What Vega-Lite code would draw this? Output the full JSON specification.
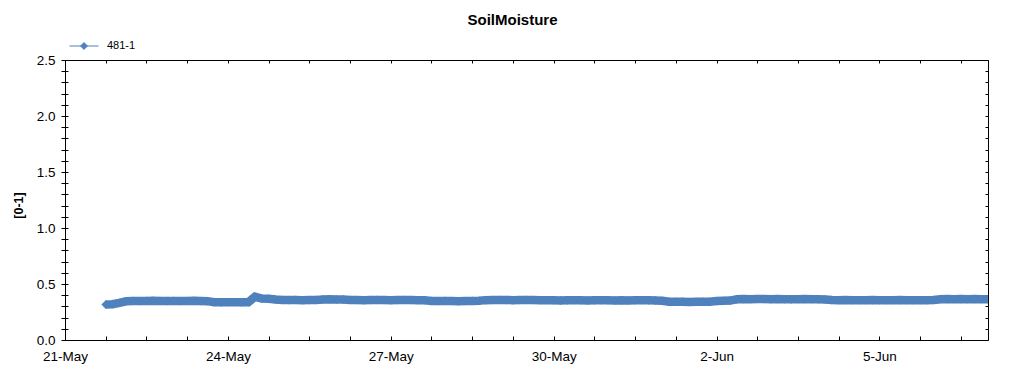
{
  "$schema": "https://vega.github.io/schema/vega-lite/v6.json",
  "autosize": {"type": "none"},
  "padding": {"left": 65, "top": 60, "right": 36, "bottom": 35},
  "width": 923,
  "height": 280,
  "background": "white",
  "config": {"view": {"stroke": null}},
  "title": {"text": "SoilMoisture", "font": "Liberation Sans", "fontSize": 15, "fontWeight": "bold", "color": "#000", "anchor": "middle", "dx": -14, "offset": 3},
  "data": {"values": [
    {"t":"2013-05-21T18:00","v":0.316},{"t":"2013-05-21T21:00","v":0.320},
    {"t":"2013-05-22T00:00","v":0.332},{"t":"2013-05-22T03:00","v":0.346},{"t":"2013-05-22T06:00","v":0.349},{"t":"2013-05-22T09:00","v":0.348},{"t":"2013-05-22T12:00","v":0.349},{"t":"2013-05-22T15:00","v":0.350},{"t":"2013-05-22T18:00","v":0.349},{"t":"2013-05-22T21:00","v":0.348},
    {"t":"2013-05-23T00:00","v":0.349},{"t":"2013-05-23T03:00","v":0.348},{"t":"2013-05-23T06:00","v":0.349},{"t":"2013-05-23T09:00","v":0.350},{"t":"2013-05-23T12:00","v":0.348},{"t":"2013-05-23T15:00","v":0.347},{"t":"2013-05-23T18:00","v":0.338},{"t":"2013-05-23T21:00","v":0.336},
    {"t":"2013-05-24T00:00","v":0.337},{"t":"2013-05-24T03:00","v":0.338},{"t":"2013-05-24T06:00","v":0.336},{"t":"2013-05-24T09:00","v":0.337},{"t":"2013-05-24T12:00","v":0.386},{"t":"2013-05-24T15:00","v":0.370},{"t":"2013-05-24T18:00","v":0.368},{"t":"2013-05-24T21:00","v":0.362},
    {"t":"2013-05-25T00:00","v":0.358},{"t":"2013-05-25T03:00","v":0.357},{"t":"2013-05-25T06:00","v":0.358},{"t":"2013-05-25T09:00","v":0.356},{"t":"2013-05-25T12:00","v":0.357},{"t":"2013-05-25T15:00","v":0.358},{"t":"2013-05-25T18:00","v":0.362},{"t":"2013-05-25T21:00","v":0.363},
    {"t":"2013-05-26T00:00","v":0.362},{"t":"2013-05-26T03:00","v":0.361},{"t":"2013-05-26T06:00","v":0.358},{"t":"2013-05-26T09:00","v":0.357},{"t":"2013-05-26T12:00","v":0.356},{"t":"2013-05-26T15:00","v":0.357},{"t":"2013-05-26T18:00","v":0.358},{"t":"2013-05-26T21:00","v":0.357},
    {"t":"2013-05-27T00:00","v":0.356},{"t":"2013-05-27T03:00","v":0.357},{"t":"2013-05-27T06:00","v":0.358},{"t":"2013-05-27T09:00","v":0.357},{"t":"2013-05-27T12:00","v":0.356},{"t":"2013-05-27T15:00","v":0.354},{"t":"2013-05-27T18:00","v":0.349},{"t":"2013-05-27T21:00","v":0.348},
    {"t":"2013-05-28T00:00","v":0.349},{"t":"2013-05-28T03:00","v":0.348},{"t":"2013-05-28T06:00","v":0.347},{"t":"2013-05-28T09:00","v":0.348},{"t":"2013-05-28T12:00","v":0.349},{"t":"2013-05-28T15:00","v":0.350},{"t":"2013-05-28T18:00","v":0.356},{"t":"2013-05-28T21:00","v":0.357},
    {"t":"2013-05-29T00:00","v":0.358},{"t":"2013-05-29T03:00","v":0.357},{"t":"2013-05-29T06:00","v":0.356},{"t":"2013-05-29T09:00","v":0.357},{"t":"2013-05-29T12:00","v":0.358},{"t":"2013-05-29T15:00","v":0.357},{"t":"2013-05-29T18:00","v":0.356},{"t":"2013-05-29T21:00","v":0.355},
    {"t":"2013-05-30T00:00","v":0.354},{"t":"2013-05-30T03:00","v":0.353},{"t":"2013-05-30T06:00","v":0.354},{"t":"2013-05-30T09:00","v":0.355},{"t":"2013-05-30T12:00","v":0.354},{"t":"2013-05-30T15:00","v":0.353},{"t":"2013-05-30T18:00","v":0.354},{"t":"2013-05-30T21:00","v":0.355},
    {"t":"2013-05-31T00:00","v":0.354},{"t":"2013-05-31T03:00","v":0.353},{"t":"2013-05-31T06:00","v":0.354},{"t":"2013-05-31T09:00","v":0.353},{"t":"2013-05-31T12:00","v":0.354},{"t":"2013-05-31T15:00","v":0.355},{"t":"2013-05-31T18:00","v":0.354},{"t":"2013-05-31T21:00","v":0.353},
    {"t":"2013-06-01T00:00","v":0.350},{"t":"2013-06-01T03:00","v":0.342},{"t":"2013-06-01T06:00","v":0.341},{"t":"2013-06-01T09:00","v":0.342},{"t":"2013-06-01T12:00","v":0.340},{"t":"2013-06-01T15:00","v":0.341},{"t":"2013-06-01T18:00","v":0.342},{"t":"2013-06-01T21:00","v":0.341},
    {"t":"2013-06-02T00:00","v":0.348},{"t":"2013-06-02T03:00","v":0.350},{"t":"2013-06-02T06:00","v":0.352},{"t":"2013-06-02T09:00","v":0.363},{"t":"2013-06-02T12:00","v":0.365},{"t":"2013-06-02T15:00","v":0.364},{"t":"2013-06-02T18:00","v":0.366},{"t":"2013-06-02T21:00","v":0.365},
    {"t":"2013-06-03T00:00","v":0.364},{"t":"2013-06-03T03:00","v":0.365},{"t":"2013-06-03T06:00","v":0.364},{"t":"2013-06-03T09:00","v":0.363},{"t":"2013-06-03T12:00","v":0.364},{"t":"2013-06-03T15:00","v":0.365},{"t":"2013-06-03T18:00","v":0.364},{"t":"2013-06-03T21:00","v":0.363},
    {"t":"2013-06-04T00:00","v":0.362},{"t":"2013-06-04T03:00","v":0.357},{"t":"2013-06-04T06:00","v":0.356},{"t":"2013-06-04T09:00","v":0.357},{"t":"2013-06-04T12:00","v":0.356},{"t":"2013-06-04T15:00","v":0.355},{"t":"2013-06-04T18:00","v":0.356},{"t":"2013-06-04T21:00","v":0.357},
    {"t":"2013-06-05T00:00","v":0.356},{"t":"2013-06-05T03:00","v":0.355},{"t":"2013-06-05T06:00","v":0.356},{"t":"2013-06-05T09:00","v":0.357},{"t":"2013-06-05T12:00","v":0.356},{"t":"2013-06-05T15:00","v":0.355},{"t":"2013-06-05T18:00","v":0.356},{"t":"2013-06-05T21:00","v":0.355},
    {"t":"2013-06-06T00:00","v":0.358},{"t":"2013-06-06T03:00","v":0.364},{"t":"2013-06-06T06:00","v":0.365},{"t":"2013-06-06T09:00","v":0.364},{"t":"2013-06-06T12:00","v":0.365},{"t":"2013-06-06T15:00","v":0.364},{"t":"2013-06-06T18:00","v":0.365},{"t":"2013-06-06T21:00","v":0.364},
    {"t":"2013-06-07T00:00","v":0.364}
  ]},
  "layer": [
    {
      "mark": {"type": "line", "color": "#4F81BD", "strokeWidth": 8.5, "clip": true},
      "encoding": {
        "x": {"field": "t", "type": "temporal",
          "scale": {"domain": [{"year":2013,"month":5,"date":21,"hours":0},{"year":2013,"month":6,"date":7,"hours":0}]},
          "axis": {"orient": "bottom", "title": null, "grid": false,
            "values": [
              {"year":2013,"month":5,"date":21,"hours":0},{"year":2013,"month":5,"date":21,"hours":18},{"year":2013,"month":5,"date":22,"hours":12},{"year":2013,"month":5,"date":23,"hours":6},
              {"year":2013,"month":5,"date":24,"hours":0},{"year":2013,"month":5,"date":24,"hours":18},{"year":2013,"month":5,"date":25,"hours":12},{"year":2013,"month":5,"date":26,"hours":6},
              {"year":2013,"month":5,"date":27,"hours":0},{"year":2013,"month":5,"date":27,"hours":18},{"year":2013,"month":5,"date":28,"hours":12},{"year":2013,"month":5,"date":29,"hours":6},
              {"year":2013,"month":5,"date":30,"hours":0},{"year":2013,"month":5,"date":30,"hours":18},{"year":2013,"month":5,"date":31,"hours":12},{"year":2013,"month":6,"date":1,"hours":6},
              {"year":2013,"month":6,"date":2,"hours":0},{"year":2013,"month":6,"date":2,"hours":18},{"year":2013,"month":6,"date":3,"hours":12},{"year":2013,"month":6,"date":4,"hours":6},
              {"year":2013,"month":6,"date":5,"hours":0},{"year":2013,"month":6,"date":5,"hours":18},{"year":2013,"month":6,"date":6,"hours":12}
            ],
            "labelExpr": "hours(datum.value) == 0 ? timeFormat(datum.value, '%-d-%b') : ''",
            "labelFont": "Liberation Sans", "labelFontSize": 13.5, "labelColor": "#000",
            "labelFlush": false, "labelOverlap": false, "labelPadding": 5,
            "tickSize": 4, "tickColor": "#000", "domainColor": "#000",
            "encoding": {"ticks": {"y2": {"value": -4}}}
          }
        },
        "y": {"field": "v", "type": "quantitative",
          "scale": {"domain": [0, 2.5], "nice": false, "zero": true},
          "axis": {"orient": "left", "grid": false,
            "values": [0,0.1,0.2,0.3,0.4,0.5,0.6,0.7,0.8,0.9,1.0,1.1,1.2,1.3,1.4,1.5,1.6,1.7,1.8,1.9,2.0,2.1,2.2,2.3,2.4,2.5],
            "labelExpr": "round(datum.value * 10) % 5 == 0 ? format(datum.value, '.1f') : ''",
            "labelFont": "Liberation Sans", "labelFontSize": 13.5, "labelColor": "#000",
            "labelPadding": 6, "labelOverlap": false, "labelFlush": false,
            "tickSize": 4, "tickColor": "#000", "domainColor": "#000",
            "encoding": {"ticks": {"x": {"value": 3}}},
            "title": "[0-1]", "titleFont": "Liberation Sans", "titleFontSize": 12.5, "titleFontWeight": "bold", "titleColor": "#000",
            "titleX": -47, "titleY": 145, "titleAlign": "center", "titleBaseline": "middle", "titleAngle": 270
          }
        }
      }
    },
    {
      "mark": {"type": "point", "shape": "diamond", "filled": true, "size": 76, "opacity": 1, "clip": true},
      "encoding": {
        "x": {"field": "t", "type": "temporal",
          "axis": {"orient": "top", "title": null, "grid": false, "labels": false,
            "values": [
              {"year":2013,"month":5,"date":21,"hours":0},{"year":2013,"month":5,"date":21,"hours":18},{"year":2013,"month":5,"date":22,"hours":12},{"year":2013,"month":5,"date":23,"hours":6},
              {"year":2013,"month":5,"date":24,"hours":0},{"year":2013,"month":5,"date":24,"hours":18},{"year":2013,"month":5,"date":25,"hours":12},{"year":2013,"month":5,"date":26,"hours":6},
              {"year":2013,"month":5,"date":27,"hours":0},{"year":2013,"month":5,"date":27,"hours":18},{"year":2013,"month":5,"date":28,"hours":12},{"year":2013,"month":5,"date":29,"hours":6},
              {"year":2013,"month":5,"date":30,"hours":0},{"year":2013,"month":5,"date":30,"hours":18},{"year":2013,"month":5,"date":31,"hours":12},{"year":2013,"month":6,"date":1,"hours":6},
              {"year":2013,"month":6,"date":2,"hours":0},{"year":2013,"month":6,"date":2,"hours":18},{"year":2013,"month":6,"date":3,"hours":12},{"year":2013,"month":6,"date":4,"hours":6},
              {"year":2013,"month":6,"date":5,"hours":0},{"year":2013,"month":6,"date":5,"hours":18},{"year":2013,"month":6,"date":6,"hours":12}
            ],
            "tickSize": 4, "tickColor": "#000", "domainColor": "#000",
            "encoding": {"ticks": {"y2": {"value": 3}}}
          }
        },
        "y": {"field": "v", "type": "quantitative",
          "axis": {"orient": "right", "title": null, "grid": false, "labels": false,
            "values": [0,0.1,0.2,0.3,0.4,0.5,0.6,0.7,0.8,0.9,1.0,1.1,1.2,1.3,1.4,1.5,1.6,1.7,1.8,1.9,2.0,2.1,2.2,2.3,2.4,2.5],
            "tickSize": 4, "tickColor": "#000", "domainColor": "#000",
            "encoding": {"ticks": {"x2": {"value": -3}}}
          }
        },
        "color": {"datum": "481-1", "type": "nominal",
          "scale": {"range": ["#4F81BD"]},
          "legend": {"orient": "none", "legendX": 4, "legendY": -29, "title": null, "padding": 0,
            "symbolType": "M-1,0L1,0M-0.24,0L0,-0.24L0.24,0L0,0.24Z", "symbolSize": 841,
            "symbolStrokeWidth": 1, "labelFont": "Liberation Sans", "labelFontSize": 11, "labelColor": "#000", "labelOffset": 8,
            "encoding": {"symbols": {"shape": {"value": "M-1,0L1,0M-0.24,0L0,-0.24L0.24,0L0,0.24Z"}, "size": {"value": 841}, "fill": {"value": "#9DB7DB"}, "stroke": {"value": "#4F81BD"}, "strokeWidth": {"value": 1}, "opacity": {"value": 1}}}
          }
        }
      }
    }
  ],
  "resolve": {"axis": {"x": "independent", "y": "independent"}}
}
